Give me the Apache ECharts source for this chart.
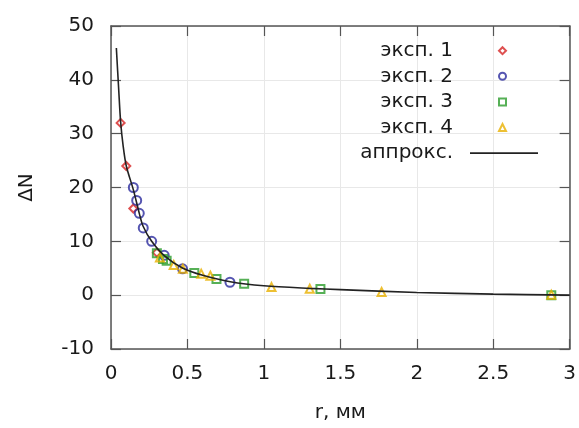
<!DOCTYPE html>
<html>
<head>
<meta charset="utf-8">
<script src="https://cdn.jsdelivr.net/npm/echarts@6/dist/echarts.min.js"></script>
<style>html,body{margin:0;padding:0;background:#fff}#c{width:579px;height:428px}</style>
</head>
<body>
<div id="c"></div>
<script>
const seriesNames = ['эксп. 1', 'эксп. 2', 'эксп. 3', 'эксп. 4', 'аппрокс.'];
const exp1 = [[0.063, 32.0], [0.10, 24.0], [0.146, 16.1], [0.30, 7.9]];
const exp2 = [[0.146, 20.0], [0.168, 17.6], [0.185, 15.2], [0.211, 12.5], [0.266, 10.0], [0.348, 7.4], [0.468, 4.9], [0.778, 2.4]];
const exp3 = [[0.30, 7.8], [0.34, 6.7], [0.364, 6.4], [0.545, 4.1], [0.69, 3.0], [0.871, 2.1], [1.37, 1.15], [2.88, 0.0]];
const exp4 = [[0.32, 7.0], [0.41, 5.6], [0.47, 4.9], [0.59, 4.0], [0.65, 3.6], [1.05, 1.5], [1.30, 1.2], [1.77, 0.6], [2.88, 0.1]];
const approx = [[0.035, 45.9], [0.05, 38.4], [0.063, 32.2], [0.08, 27.6], [0.10, 24.0], [0.146, 19.6], [0.185, 15.2], [0.21, 12.8], [0.266, 10.0], [0.35, 7.3], [0.47, 5.0], [0.6, 3.7], [0.78, 2.5], [1.0, 1.75], [1.3, 1.26], [1.5, 1.03], [2.0, 0.5], [2.5, 0.2], [3.0, 0.0]];
const xTicks = {min: 0, max: 3, interval: 0.5};
const yTicks = {min: -10, max: 50, interval: 10};

const colors = ['#d62424', '#2a2a9e', '#2c9c2c', '#e8b000'];
const symbols = ['diamond', 'circle', 'rect', 'triangle'];
const sizes = [8, 9, 8, 8];
const font = 'DejaVu Sans';
const axisColor = '#555';
const textColor = '#1a1a1a';

const chart = echarts.init(document.getElementById('c'), null, {renderer: 'canvas'});
const expData = [exp1, exp2, exp3, exp4];
const series = expData.map((d, i) => ({
  name: seriesNames[i], type: 'scatter', data: d,
  symbol: symbols[i], symbolSize: sizes[i],
  itemStyle: {color: 'rgba(255,255,255,0)', borderColor: colors[i], borderWidth: 2},
  xAxisIndex: 0, yAxisIndex: 0
}));
series.push({
  name: seriesNames[4], type: 'line', data: approx, smooth: 0.3,
  symbol: 'none', lineStyle: {color: '#222', width: 1.6}, itemStyle: {color: '#222'},
  xAxisIndex: 0, yAxisIndex: 0
});

const tickStyle = {inside: true, length: 10, lineStyle: {color: axisColor, width: 1.2}};
const lineStyleAxis = {show: true, onZero: false, lineStyle: {color: axisColor, width: 1.5}};
const legendText = {fontFamily: font, fontSize: 20, color: textColor, lineHeight: 20};
chart.setOption({
  animation: false,
  grid: {left: 111, right: 9, top: 26, bottom: 75},
  legend: [{
    orient: 'vertical', right: 72, top: 40.7, padding: 0, align: 'right',
    itemWidth: 7, itemHeight: 7, itemGap: 5.6, symbolKeepAspect: true,
    data: seriesNames.slice(0, 4).map((n, i) => ({name: n, icon: symbols[i]})),
    textStyle: Object.assign({padding: [0, 41, 0, 0]}, legendText),
    selectedMode: false
  }, {
    orient: 'vertical', right: 41, top: 143.1, padding: 0, align: 'right',
    itemWidth: 68, itemHeight: 1.6,
    data: [{name: seriesNames[4], icon: 'rect', itemStyle: {color: '#222'}}],
    textStyle: Object.assign({padding: [0, 12, 0, 0]}, legendText),
    selectedMode: false
  }],
  xAxis: [{
    type: 'value', min: xTicks.min, max: xTicks.max, interval: xTicks.interval,
    name: 'r, мм', nameLocation: 'middle', nameGap: 54,
    nameTextStyle: {fontFamily: font, fontSize: 20, color: textColor},
    axisLine: lineStyleAxis, axisTick: tickStyle,
    axisLabel: {fontFamily: font, fontSize: 20, color: textColor, margin: 15},
    splitLine: {show: true, lineStyle: {color: '#e8e8e8', width: 1}}
  }, {
    type: 'value', position: 'top', min: xTicks.min, max: xTicks.max, interval: xTicks.interval,
    axisLine: lineStyleAxis, axisTick: tickStyle, axisLabel: {show: false}, splitLine: {show: false}
  }],
  yAxis: [{
    type: 'value', min: yTicks.min, max: yTicks.max, interval: yTicks.interval,
    name: 'ΔN', nameLocation: 'middle', nameGap: 74,
    nameTextStyle: {fontFamily: font, fontSize: 20, color: textColor},
    axisLine: lineStyleAxis, axisTick: tickStyle,
    axisLabel: {fontFamily: font, fontSize: 20, color: textColor, margin: 17},
    splitLine: {show: true, lineStyle: {color: '#e8e8e8', width: 1}}
  }, {
    type: 'value', position: 'right', min: yTicks.min, max: yTicks.max, interval: yTicks.interval,
    axisLine: lineStyleAxis, axisTick: tickStyle, axisLabel: {show: false}, splitLine: {show: false}
  }],
  series: series
});
</script>
</body>
</html>
